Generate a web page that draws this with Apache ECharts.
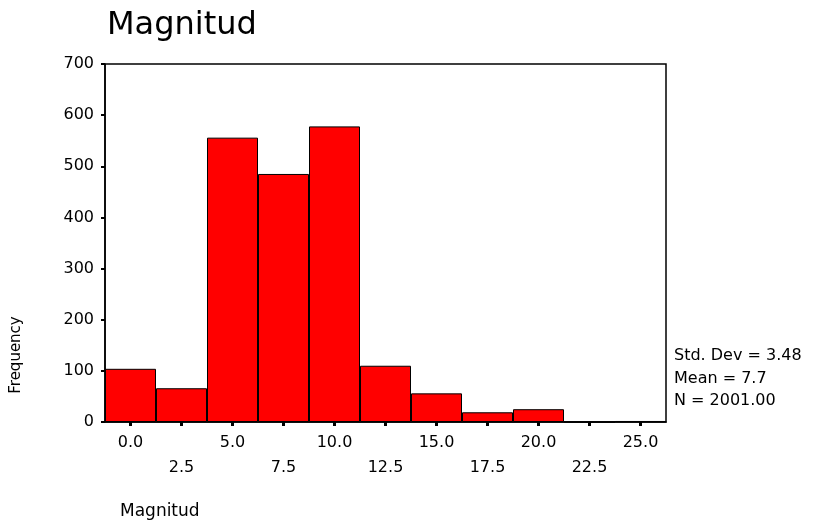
<!DOCTYPE html>
<html>
<head>
<meta charset="utf-8">
<script src="https://cdn.jsdelivr.net/npm/echarts@6/dist/echarts.min.js"></script>
<style>
html,body{margin:0;padding:0;background:#fff;}
#chart{width:835px;height:523px;}
</style>
</head>
<body>
<div id="chart"></div>
<script>
const categories = ['0.0','2.5','5.0','7.5','10.0','12.5','15.0','17.5','20.0','22.5','25.0'];
const frequencies = [104, 66, 556, 485, 578, 110, 56, 19, 25, 0, 2];
const yTicks = { min: 0, max: 700, interval: 100 };
const titleText = 'Magnitud';
const yAxisTitle = 'Frequency';
const xAxisTitle = 'Magnitud';
const statLines = ['Std. Dev = 3.48', 'Mean = 7.7', 'N = 2001.00'];

const FONT = 'DejaVu Sans';
const chart = echarts.init(document.getElementById('chart'), null, {renderer: 'canvas'});

const statGraphics = statLines.map((t, i) => ({
  type: 'text', left: 674, top: 348 + i * 22.5,
  style: { text: t, font: '16px "' + FONT + '"', fill: '#000' }
}));

chart.setOption({
  animation: false,
  backgroundColor: '#fff',
  grid: { left: 105, top: 64, width: 561, height: 358, show: true, borderColor: '#000', borderWidth: 1.5, backgroundColor: 'transparent' },
  xAxis: {
    type: 'category',
    data: categories,
    boundaryGap: true,
    axisLine: { show: true, lineStyle: { color: '#000', width: 1.5 } },
    axisTick: { show: true, alignWithLabel: true, length: 4, lineStyle: { color: '#000', width: 3 } },
    axisLabel: {
      interval: 0, margin: 8, color: '#000', fontFamily: FONT, fontSize: 16, lineHeight: 25,
      formatter: (v, i) => (i % 2 === 0 ? v : '\n' + v)
    },
    splitLine: { show: false }
  },
  yAxis: {
    type: 'value',
    min: yTicks.min, max: yTicks.max, interval: yTicks.interval,
    axisLine: { show: true, lineStyle: { color: '#000', width: 1.5 } },
    axisTick: { show: true, length: 4, lineStyle: { color: '#000', width: 2 } },
    axisLabel: { margin: 11, color: '#000', fontFamily: FONT, fontSize: 16 },
    splitLine: { show: false }
  },
  series: [{
    type: 'bar',
    data: frequencies,
    barWidth: '100%',
    barCategoryGap: 0,
    itemStyle: { color: '#ff0000', borderColor: '#000', borderWidth: 1 }
  }],
  graphic: [
    { type: 'text', left: 107, top: 10, style: { text: titleText, font: '32px "' + FONT + '"', fill: '#000' } },
    { type: 'text', x: 16, y: 355, rotation: Math.PI / 2,
      style: { text: yAxisTitle, font: '15px "' + FONT + '"', fill: '#000', align: 'center', verticalAlign: 'middle' } },
    { type: 'text', left: 120, top: 503, style: { text: xAxisTitle, font: '17px "' + FONT + '"', fill: '#000' } }
  ].concat(statGraphics)
});
</script>
</body>
</html>
